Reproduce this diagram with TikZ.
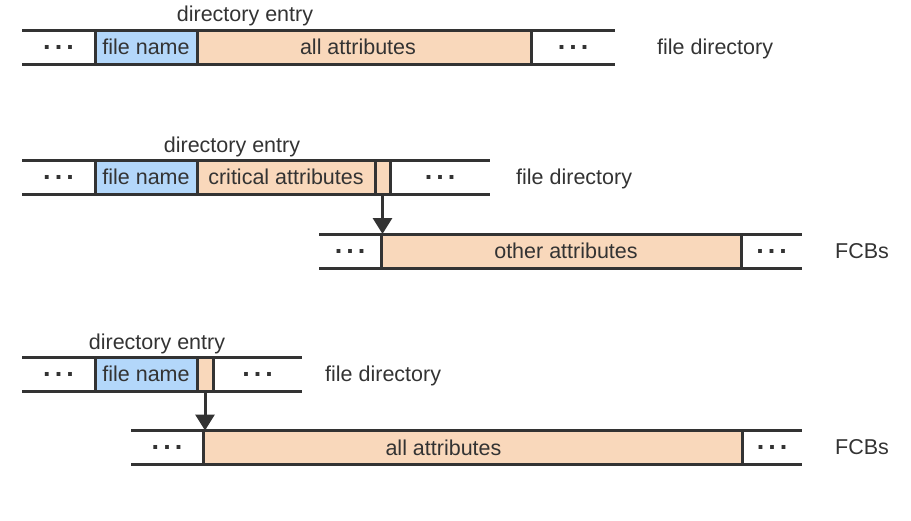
\documentclass[tikz,border=0pt]{standalone}
\usepackage{fontspec}
\setmainfont{Liberation Sans}
\usetikzlibrary{arrows.meta,positioning}

\definecolor{ink}{HTML}{333333}
\definecolor{nameblue}{HTML}{B3D7FA}
\definecolor{attrpeach}{HTML}{F9D8BB}
\newcommand{\cellDots}{\raisebox{-2pt}{.\hspace{4pt}.\hspace{4pt}.}}

\begin{document}
\begin{tikzpicture}[x=1pt,y=-1pt,node distance=0pt,
	font=\fontsize{21.5}{26}\selectfont,text=ink,
	cell/.style={minimum height=34pt,inner sep=0pt,outer sep=0pt},
	dotcell/.style={cell,font=\fontsize{27}{30}\selectfont\bfseries},
	namecell/.style={cell,fill=nameblue},
	attrcell/.style={cell,fill=attrpeach},
	rule/.style={draw=ink,line width=3pt},
	ptr/.style={draw=ink,line width=3pt,-{Triangle[width=19pt,length=16pt]}}]
		\useasboundingbox (0,0) rectangle (911,520);
		
		% first: all attributes in the directory
		\node[dotcell,minimum width=73pt,anchor=west] (dl1) at (22,47) {\cellDots};
		\node[namecell,minimum width=102pt,right=of dl1] (name1) {file name};
		\node[attrcell,minimum width=334pt,right=of name1] (attr1) {};
		\node (attrtext1) at ([xshift=-6pt]attr1.center) {all attributes};
		\node[dotcell,minimum width=84pt,right=of attr1] (dr1) {\cellDots};
		\node[inner sep=0pt,right=42pt of dr1,yshift=-1.5pt] (dir1) {file directory};
		\node (entry1) at (245,15.5) {directory entry};
		
		% second: critical attributes + pointer to FCB
		\node[dotcell,minimum width=73pt,anchor=west] (dl2) at (22,177) {\cellDots};
		\node[namecell,minimum width=102pt,right=of dl2] (name2) {file name};
		\node[attrcell,minimum width=178pt,right=of name2] (crit2) {critical attributes};
		\node[attrcell,minimum width=15pt,right=of crit2] (ptr2) {};
		\node[dotcell,minimum width=100pt,right=of ptr2] (dr2) {\cellDots};
		\node[inner sep=0pt,right=26pt of dr2,yshift=-1.5pt] (dir2) {file directory};
		\node (entry2) at (232,146.5) {directory entry};
		
		\node[dotcell,minimum width=62pt,anchor=west] (fl2) at (319,251) {\cellDots};
		\node[attrcell,minimum width=360pt,right=of fl2] (other2) {};
		\node (othertext2) at ([xshift=5pt]other2.center) {other attributes};
		\node[dotcell,minimum width=61pt,right=of other2] (fr2) {\cellDots};
		\node[inner sep=0pt,right=33pt of fr2] (fcb2) {FCBs};
		
		% third: name + pointer only
		\node[dotcell,minimum width=73pt,anchor=west] (dl3) at (22,374) {\cellDots};
		\node[namecell,minimum width=102pt,right=of dl3] (name3) {file name};
		\node[attrcell,minimum width=16pt,right=of name3] (ptr3) {};
		\node[dotcell,minimum width=89pt,right=of ptr3] (dr3) {\cellDots};
		\node[inner sep=0pt,right=23pt of dr3,yshift=-1.5pt] (dir3) {file directory};
		\node (entry3) at (157,343.5) {directory entry};
		
		\node[dotcell,minimum width=72pt,anchor=west] (fl3) at (131,447.5) {\cellDots};
		\node[attrcell,minimum width=539pt,right=of fl3] (all3) {};
		\node (alltext3) at ([xshift=-29pt]all3.center) {all attributes};
		\node[dotcell,minimum width=60pt,right=of all3] (fr3) {\cellDots};
		\node[inner sep=0pt,right=33pt of fr3] (fcb3) {FCBs};
		
		% rules
		\foreach \l/\r in {dl1/dr1,dl2/dr2,fl2/fr2,dl3/dr3,fl3/fr3}
		{
			\draw[rule] (\l.north west) -- (\r.north east);
			\draw[rule] (\l.south west) -- (\r.south east);
		}
		\foreach \c in {name1,attr1,dr1,name2,crit2,ptr2,dr2,other2,fr2,name3,ptr3,dr3,all3,fr3}
			\draw[rule] (\c.north west) -- (\c.south west);
		
		% pointers
		\draw[ptr] (ptr2.south) -- (ptr2.south |- other2.north);
		\draw[ptr] (ptr3.south) -- (ptr3.south |- all3.north);
\end{tikzpicture}
\end{document}
